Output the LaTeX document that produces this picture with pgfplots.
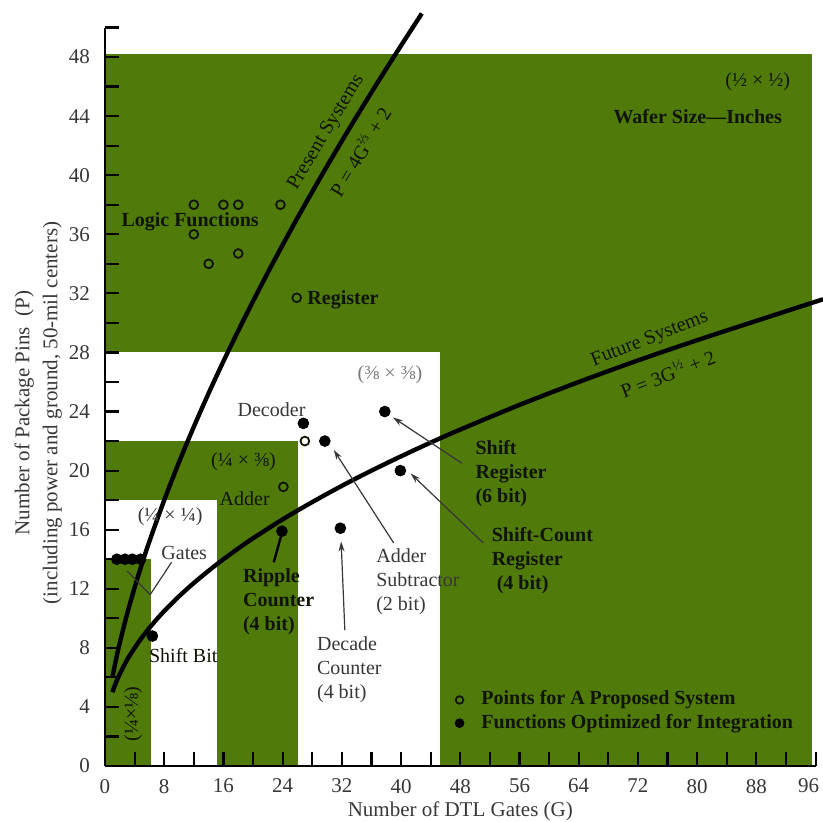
\documentclass[border=0pt]{standalone}
\usepackage{fontspec}
\setmainfont{Liberation Serif}
\usepackage{pgfplots}
\pgfplotsset{compat=1.18}
\usetikzlibrary{arrows.meta}
\definecolor{wgreen}{RGB}{80,122,10}
\definecolor{ink}{RGB}{15,20,5}
\definecolor{grtxt}{RGB}{55,55,55}
\definecolor{ltgr}{RGB}{120,120,120}
\begin{document}
\begin{tikzpicture}
\begin{axis}[
  name=ax,
  x=3.701pt, y=7.385pt,
  xmin=0, xmax=96, ymin=0, ymax=50,
  axis lines=left,
  axis line style={-, line width=1.1pt, black},
  clip=false, axis on top,
  xtick={0,8,...,96}, ytick={0,4,...,48},
  xticklabels={0,8,16,24,32,40,48,56,64,72,80,88,{\kern-7pt 96}},
  minor xtick={4,12,...,92}, minor ytick={2,6,...,50},
  tick align=inside, major tick length=7pt, minor tick length=7pt,
  tick style={black, line width=1.1pt},
  /pgf/number format/assume math mode=true,
  ticklabel style={font=\fontsize{10.5}{12}\selectfont, text=grtxt},
  yticklabel style={xshift=-4pt},
  xticklabel style={yshift=-3pt},
  xlabel={Number of DTL Gates (G)},
  ylabel={Number of Package Pins\enspace(P)\\[2pt](including power and ground, 50-mil centers)},
  every axis x label/.style={at={(axis description cs:0.5,0)}, anchor=north, yshift=-14.5pt, text=grtxt, font=\fontsize{10.5}{12}\selectfont},
  every axis y label/.style={at={(axis description cs:-0.094,0.478)}, anchor=center, rotate=90, align=center, text=grtxt, font=\fontsize{10.5}{12}\selectfont},
]
% wafer regions
\addplot[fill=wgreen, draw=none] coordinates {(0,0) (95.5,0) (95.5,48.2) (0,48.2)} -- cycle;
\addplot[fill=white, draw=none] coordinates {(0,0) (45.2,0) (45.2,28) (0,28)} -- cycle;
\addplot[fill=wgreen, draw=none] coordinates {(0,0) (26.1,0) (26.1,22) (0,22)} -- cycle;
\addplot[fill=white, draw=none] coordinates {(0,0) (15.1,0) (15.1,18) (0,18)} -- cycle;
\addplot[fill=wgreen, draw=none] coordinates {(0,0) (6.15,0) (6.15,14) (0,14)} -- cycle;

% curves
\addplot[black, line width=2.2pt, smooth] coordinates {
 (1,6) (1.5,7.24) (2,8.35) (3,10.32) (4,12.08) (5,13.70) (6,15.21) (8,18) (10,20.57)
 (12,22.97) (14,25.24) (16,27.40) (18,29.47) (20,31.47) (22,33.41) (24,35.28) (26,37.11)
 (28,38.88) (30,40.62) (32,42.32) (34,43.98) (36,45.61) (38,47.21) (40,48.78) (42,50.33) (42.8,50.95)};
\addplot[black, line width=2.2pt, smooth] coordinates {
 (1,5) (1.5,5.67) (2,6.24) (3,7.20) (4,8) (5,8.71) (6,9.35) (7,9.94) (8,10.49) (10,11.49)
 (12,12.39) (14,13.22) (16,14) (18,14.73) (20,15.42) (24,16.70) (28,17.87) (32,18.97)
 (36,20) (40,20.97) (44,21.90) (48,22.78) (56,24.45) (64,26) (72,27.46) (80,28.83)
 (88,30.14) (97,31.6)};

% pointer lines
\addplot[grtxt, line width=0.6pt] coordinates {(3.0,13.2) (6.1,11.6) (9.0,13.8)};
\addplot[grtxt, line width=0.6pt, -{Stealth[length=5pt,width=3pt]}] coordinates {(48.2,20.5) (38.9,23.6)};
\addplot[grtxt, line width=0.6pt, -{Stealth[length=5pt,width=3pt]}] coordinates {(51.1,15.1) (41.3,19.8)};
\addplot[grtxt, line width=0.6pt, -{Stealth[length=5pt,width=3pt]}] coordinates {(39.0,15.1) (30.9,21.4)};
\addplot[grtxt, line width=0.6pt, -{Stealth[length=5pt,width=3pt]}] coordinates {(32.4,9.2) (31.9,15.2)};
\addplot[black, line width=1.2pt] coordinates {(22.8,13.8) (23.8,15.6)};

% proposed system (open)
\addplot[only marks, mark=o, mark size=2.2pt, mark options={line width=0.9pt, draw=ink}] coordinates {
 (12,38) (16,38) (18,38) (23.7,38) (12,36) (14,34) (18,34.7) (25.9,31.7) (27,22) (24.1,18.9)};
% optimized (filled)
\addplot[only marks, mark=*, mark size=2.7pt, mark options={fill=black, draw=black}] coordinates {
 (1.6,14) (2.7,14) (3.7,14) (4.8,14) (6.4,8.8) (23.9,15.9) (26.8,23.2) (29.7,22.0)
 (31.8,16.1) (37.8,24.0) (39.9,20.0)};
% legend marks
\addplot[only marks, mark=o, mark size=1.9pt, mark options={line width=0.9pt, draw=ink}] coordinates {(47.9,4.47)};
\addplot[only marks, mark=*, mark size=2.2pt, mark options={fill=black}] coordinates {(47.9,2.9)};

% labels
\node[text=ink, font=\bfseries] at (axis cs:11.5,36.85) {Logic Functions};
\node[text=ink, font=\bfseries, anchor=west] at (axis cs:26.4,31.6) {Register};
\node[text=ink, rotate=59] at (axis cs:29.9,42.9) {Present Systems};
\node[text=ink, rotate=59] at (axis cs:34.4,41.6) {P = 4G\textsuperscript{⅔} + 2};
\node[text=ink, anchor=east] at (axis cs:93.5,46.3) {(½ × ½)};
\node[text=ink, font=\bfseries, anchor=east] at (axis cs:92.4,44.0) {Wafer Size—Inches};
\node[text=ink, rotate=21.5] at (axis cs:73.6,28.9) {Future Systems};
\node[text=ink, rotate=21.5] at (axis cs:76.0,26.6) {P = 3G\textsuperscript{½} + 2};
\node[text=ltgr] at (axis cs:38.5,26.5) {(⅜ × ⅜)};
\node[text=grtxt] at (axis cs:22.5,24.1) {Decoder};
\node[text=ink] at (axis cs:18.7,20.6) {(¼ × ⅜)};
\node[text=ink, anchor=east] at (axis cs:23.2,18.1) {Adder};
\node[text=grtxt] at (axis cs:8.8,16.9) {(¼ × ¼)};
\node[text=grtxt] at (axis cs:10.7,14.4) {Gates};
\node[text=ink, anchor=west, inner sep=0pt] at (axis cs:5.9,7.5) {Shift Bit};
\node[text=ink, font=\bfseries, anchor=west, align=left] at (axis cs:17.7,11.1) {Ripple\\Counter\\(4 bit)};
\node[text=grtxt, anchor=west, align=left] at (axis cs:27.7,6.5) {Decade\\Counter\\(4 bit)};
\node[text=grtxt, anchor=west, align=left] at (axis cs:35.7,12.45) {Adder\\Subtractor\\(2 bit)};
\node[text=ink, font=\bfseries, anchor=west, align=left] at (axis cs:49.1,19.8) {Shift\\Register\\(6 bit)};
\node[text=ink, font=\bfseries, anchor=west, align=left] at (axis cs:51.3,13.9) {Shift-Count\\Register\\\ (4 bit)};
\node[text=ink, rotate=90] at (axis cs:3.8,3.5) {(¼×⅛)};
\node[text=ink, font=\bfseries, anchor=west] at (axis cs:49.9,4.47) {Points for A Proposed System};
\node[text=ink, font=\bfseries, anchor=west] at (axis cs:49.9,2.9) {Functions Optimized for Integration};
\coordinate (O) at (axis cs:0,0);
\end{axis}
\pgfresetboundingbox
\path ([shift={(-52.5pt,-27.5pt)}]O) rectangle ([shift={(359pt,383pt)}]O);
\end{tikzpicture}
\end{document}
